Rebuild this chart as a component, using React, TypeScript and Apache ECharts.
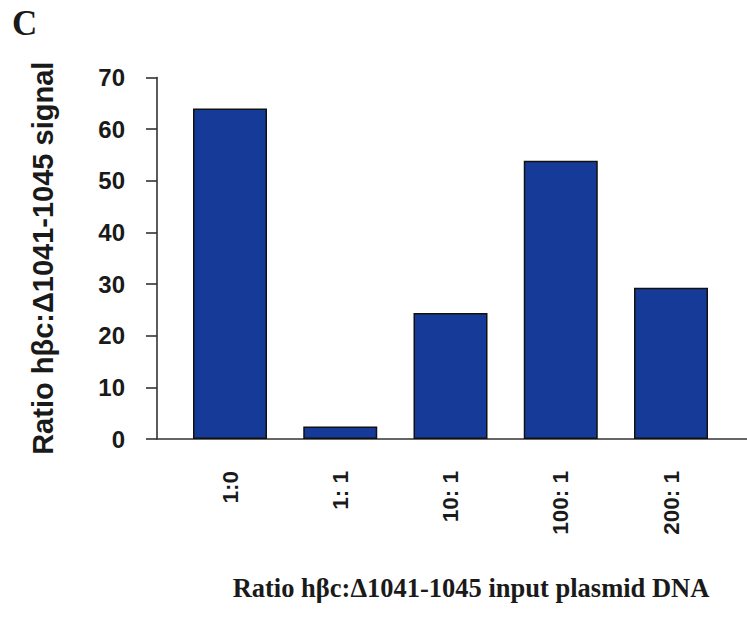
import React, { useEffect, useRef } from "react";
import * as echarts from "echarts";

// Input plasmid ratios and the measured signal ratio for each
const categories = ["1:0", "1: 1", "10: 1", "100: 1", "200: 1"];
const signalValues = [64, 2.4, 24.4, 53.9, 29.3];
const yTicks = { min: 0, max: 70, interval: 10 };

const yTitle = "Ratio hβc:Δ1041-1045 signal";
const xTitle = "Ratio hβc:Δ1041-1045 input plasmid DNA";
const panelLetter = "C";

const BAR_COLOR = "#163a97";
const INK = "#1a1a1a";

export default function App() {
  const ref = useRef<HTMLDivElement>(null);

  useEffect(() => {
    if (!ref.current) return;
    const chart = echarts.init(ref.current, undefined, { renderer: "svg" });

    const left0 = 157;
    const bottom = 179;
    const top = 77.5;
    const step = 110.25;
    const firstCenter = 230;
    const width = 747;
    const xMin = -(firstCenter - left0) / step;
    const xMax = (width - firstCenter) / step;
    const lastCenter = firstCenter + step * (categories.length - 1);

    chart.setOption({
      animation: false,
      backgroundColor: "#ffffff",
      grid: [
        { left: left0, right: 0, top, bottom },
        {
          left: firstCenter - step / 2,
          right: width - (lastCenter + step / 2),
          top,
          bottom,
        },
      ],
      xAxis: [
        {
          type: "value",
          gridIndex: 0,
          min: xMin,
          max: xMax,
          axisLine: { show: true, onZero: false, lineStyle: { color: "#333", width: 1.6 } },
          axisTick: { show: false },
          axisLabel: { show: false },
          splitLine: { show: false },
        },
        {
          type: "category",
          gridIndex: 1,
          data: categories,
          axisLine: { show: false },
          axisTick: { show: false },
          axisLabel: {
            rotate: 90,
            margin: 32,
            fontSize: 22.5,
            fontWeight: "bold",
            fontFamily: "Liberation Sans, Arial, sans-serif",
            color: INK,
          },
        },
      ],
      yAxis: [
        {
          type: "value",
          gridIndex: 0,
          min: yTicks.min,
          max: yTicks.max,
          interval: yTicks.interval,
          name: yTitle,
          nameLocation: "middle",
          nameGap: 100,
          nameTextStyle: {
            fontSize: 29,
            fontWeight: "bold",
            fontFamily: "Liberation Sans, Arial, sans-serif",
            color: INK,
          },
          axisLine: { show: true, onZero: false, lineStyle: { color: "#333", width: 1.6 } },
          axisTick: { show: true, length: 11, lineStyle: { color: "#333", width: 1.6 } },
          axisLabel: {
            margin: 32,
            fontSize: 24,
            fontWeight: "bold",
            fontFamily: "Liberation Sans, Arial, sans-serif",
            color: INK,
          },
          splitLine: { show: false },
        },
        {
          type: "value",
          gridIndex: 1,
          min: yTicks.min,
          max: yTicks.max,
          show: false,
        },
      ],
      series: [
        {
          type: "bar",
          xAxisIndex: 0,
          yAxisIndex: 0,
          barWidth: 74,
          data: signalValues.map((v, i) => [i, v]),
          itemStyle: { color: BAR_COLOR, borderColor: "#111", borderWidth: 1.5 },
        },
      ],
      graphic: [
        {
          type: "text",
          left: 12,
          top: 6,
          style: {
            text: panelLetter,
            font: "bold 35px 'Liberation Serif', 'Times New Roman', serif",
            fill: INK,
          },
        },
        {
          type: "text",
          x: 471,
          y: 588,
          style: {
            text: xTitle,
            font: "bold 26.5px 'Liberation Serif', 'Times New Roman', serif",
            fill: INK,
            align: "center",
            verticalAlign: "middle",
          },
        },
      ],
    });

    return () => chart.dispose();
  }, []);

  return (
    <div
      ref={ref}
      style={{ position: "fixed", left: 0, top: 0, width: 747, height: 618, background: "#fff" }}
    />
  );
}
